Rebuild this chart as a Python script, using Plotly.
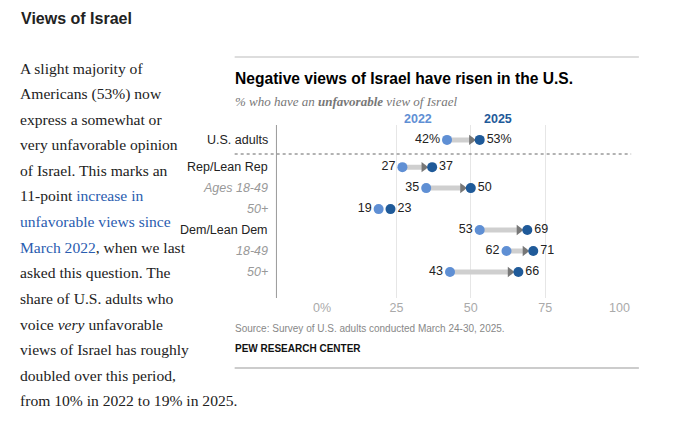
import plotly.graph_objects as go

groups = ['U.S. adults', 'Rep/Lean Rep', 'Ages 18-49', '50+', 'Dem/Lean Dem', '18-49', '50+']
sub_group = [False, False, True, True, False, True, True]
ypos = [0, 1.3, 2.3, 3.3, 4.3, 5.3, 6.3]
v2022 = [42, 27, 35, 19, 53, 62, 43]
v2025 = [53, 37, 50, 23, 69, 71, 66]
xticks = [0, 25, 50, 75, 100]
xticklabels = ['0%', '25', '50', '75', '100']

body_lines = [
    'A slight majority of',
    'Americans (53%) now',
    'express a somewhat or',
    'very unfavorable opinion',
    'of Israel. This marks an',
    "11-point <a href='#' style='color:#2a5db0'>increase in</a>",
    "<a href='#' style='color:#2a5db0'>unfavorable views since</a>",
    "<a href='#' style='color:#2a5db0'>March 2022</a>, when we last",
    'asked this question. The',
    'share of U.S. adults who',
    'voice <i>very</i> unfavorable',
    'views of Israel has roughly',
    'doubled over this period,',
    'from 10% in 2022 to 19% in 2025.',
]

C22 = '#5f8fd4'
C25 = '#1f5a99'
W, H = 672, 405   # page adds an 8px body margin


def px(x):
    return (x - 8) / W


def py(y):
    return 1 - (y - 8) / H


fig = go.Figure()

# arrow bars
for y, a, b in zip(ypos, v2022, v2025):
    if b - a >= 5:
        fig.add_trace(go.Scatter(x=[a, b - 2.2], y=[y, y], mode='lines',
                                 line=dict(color='#cfcfcf', width=5), hoverinfo='skip'))
        fig.add_trace(go.Scatter(x=[b - 2.8], y=[y], mode='markers',
                                 marker=dict(symbol='triangle-right', size=9, color='#777777'),
                                 hoverinfo='skip'))

fig.add_trace(go.Scatter(x=v2022, y=ypos, mode='markers',
                         marker=dict(size=10, color=C22), hoverinfo='x+y'))
fig.add_trace(go.Scatter(x=v2025, y=ypos, mode='markers',
                         marker=dict(size=10, color=C25), hoverinfo='x+y'))

lab22 = [(f'{v}%' if i == 0 else str(v)) + '  ' for i, v in enumerate(v2022)]
lab25 = ['  ' + (f'{v}%' if i == 0 else str(v)) for i, v in enumerate(v2025)]
fig.add_trace(go.Scatter(x=v2022, y=ypos, mode='text', text=lab22, textposition='middle left',
                         textfont=dict(family='Liberation Sans, Arial', size=12.5, color='#222'),
                         hoverinfo='skip'))
fig.add_trace(go.Scatter(x=v2025, y=ypos, mode='text', text=lab25, textposition='middle right',
                         textfont=dict(family='Liberation Sans, Arial', size=12.5, color='#222'),
                         hoverinfo='skip'))

fig.update_xaxes(domain=[px(322), px(628)], range=[0, 100], tickvals=xticks, ticktext=xticklabels,
                 showgrid=True, gridcolor='#e6e6e6', zeroline=False, showline=False,
                 tickfont=dict(family='Liberation Sans, Arial', size=12.5, color='#aaaaaa'),
                 ticks='', fixedrange=True)
fig.update_yaxes(domain=[py(298), py(125)], range=[7.54, -0.71], showgrid=False,
                 zeroline=False, showticklabels=False, fixedrange=True)

ann = []
for y, g, s in zip(ypos, groups, sub_group):
    ann.append(dict(x=px(268), xref='paper', y=y, yref='y',
                    text=f'<i>{g}</i>' if s else g, showarrow=False, xanchor='right',
                    font=dict(family='Liberation Sans, Arial', size=12.5,
                              color='#999999' if s else '#222222')))


def ptxt(x, y, text, size, color='#222', family='Liberation Sans, Arial', anchor='left'):
    ann.append(dict(x=px(x), y=py(y), xref='paper', yref='paper', text=text,
                    showarrow=False, xanchor=anchor, yanchor='middle',
                    font=dict(family=family, size=size, color=color)))


ptxt(10, 18, '<b>Views of Israel</b>', 16, '#222')
for i, line in enumerate(body_lines):
    ptxt(9, 68 + i * 25.6, line, 15.6, '#222', 'Liberation Serif, Georgia, serif')

ptxt(230, 78, '<b>Negative views of Israel have risen in the U.S.</b>', 15.6, '#000')
ptxt(230, 101, '<i>% who have an <b>unfavorable</b> view of Israel</i>', 13, '#777',
     'Liberation Serif, Georgia, serif')
ptxt(421, 119, '<b>2022</b>', 12.5, C22, anchor='center')
ptxt(503, 119, '<b>2025</b>', 12.5, C25, anchor='center')
ptxt(230, 328, 'Source: Survey of U.S. adults conducted March 24-30, 2025.', 10, '#888')
ptxt(230, 348, '<b>PEW RESEARCH CENTER</b>', 10, '#111')

shapes = [
    dict(type='line', xref='paper', yref='paper', x0=px(232), x1=px(648),
         y0=py(57), y1=py(57), line=dict(color='#bbbbbb', width=1)),
    dict(type='line', xref='paper', yref='paper', x0=px(232), x1=px(648),
         y0=py(368), y1=py(368), line=dict(color='#999999', width=1)),
    dict(type='line', xref='paper', yref='paper', x0=px(232), x1=px(640),
         y0=py(154), y1=py(154), line=dict(color='#666666', width=1, dash='dot')),
    dict(type='line', xref='paper', yref='paper', x0=px(275), x1=px(275),
         y0=py(298), y1=py(125), line=dict(color='#999999', width=1)),
]

fig.update_layout(width=W, height=H, margin=dict(l=0, r=0, t=0, b=0),
                  plot_bgcolor='white', paper_bgcolor='white', showlegend=False,
                  annotations=ann, shapes=shapes)
fig.write_html('out.html')
